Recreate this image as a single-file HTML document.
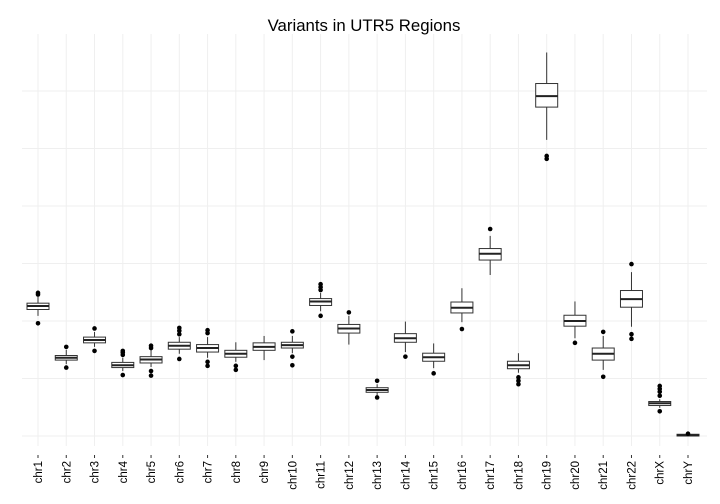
<!DOCTYPE html>
<html><head><meta charset="utf-8"><style>
html,body{margin:0;padding:0;background:#fff;}
svg{display:block;font-family:"Liberation Sans",sans-serif;}
</style></head><body>
<svg id="chart" width="720" height="504" viewBox="0 0 720 504">
<text x="364" y="31" text-anchor="middle" font-size="16.8" fill="#000">Variants in UTR5 Regions</text>
<g id="grid"></g>
<g id="boxes"></g>
<g id="xaxis"></g>
</svg>
<script>
const categories = ["chr1","chr2","chr3","chr4","chr5","chr6","chr7","chr8","chr9","chr10","chr11","chr12","chr13","chr14","chr15","chr16","chr17","chr18","chr19","chr20","chr21","chr22","chrX","chrY"];
const whiskerLow = [2.09,1.25,1.55,1.13,1.20,1.43,1.36,1.29,1.32,1.44,2.17,1.59,0.71,1.46,1.18,1.98,2.80,1.10,5.15,1.70,1.15,1.90,0.49,0.00];
const q1 =         [2.20,1.32,1.62,1.19,1.27,1.51,1.46,1.37,1.49,1.53,2.27,1.79,0.76,1.63,1.30,2.14,3.06,1.17,5.72,1.91,1.32,2.24,0.53,0.00];
const median =     [2.26,1.36,1.67,1.23,1.33,1.57,1.53,1.43,1.55,1.58,2.34,1.87,0.80,1.70,1.37,2.23,3.17,1.23,5.91,2.00,1.43,2.38,0.57,0.01];
const q3 =         [2.31,1.40,1.72,1.28,1.38,1.63,1.59,1.49,1.62,1.63,2.39,1.94,0.84,1.78,1.44,2.33,3.26,1.30,6.13,2.10,1.53,2.53,0.60,0.03];
const whiskerHigh =[2.42,1.50,1.81,1.36,1.50,1.72,1.72,1.63,1.74,1.74,2.49,2.09,0.90,1.99,1.61,2.57,3.48,1.44,6.67,2.34,1.74,2.85,0.64,0.03];
const outliers = [
 [2.49,2.46,1.96],[1.55,1.19],[1.87,1.48],[1.48,1.45,1.41,1.06],[1.57,1.53,1.13,1.05],
 [1.88,1.83,1.77,1.34],[1.84,1.79,1.29,1.22],[1.22,1.15],[],[1.82,1.38,1.23],
 [2.64,2.59,2.54,2.09],[2.15],[0.96,0.67],[1.38],[1.09],[1.86],[3.60],[1.02,0.96,0.90],
 [4.87,4.82],[1.62],[1.81,1.03],[2.99,1.77,1.69],[0.87,0.82,0.77,0.70,0.43],[0.04]
];
const yGridValues = [0,1,2,3,4,5,6];

const NS="http://www.w3.org/2000/svg";
const panel={left:22,right:707,top:34,bottom:446};
const x0=38, step=(688-38)/23;
function xScale(i){return x0+i*step;}
function yScale(v){return 436-v*57.5;}
function mk(tag,attrs,parent){const e=document.createElementNS(NS,tag);for(const k in attrs)e.setAttribute(k,attrs[k]);parent.appendChild(e);return e;}

const grid=document.getElementById('grid');
yGridValues.forEach(v=>{
  const l=mk('line',{x1:panel.left,x2:panel.right,y1:yScale(v),y2:yScale(v),stroke:'#efefef','stroke-width':1},grid);
  
  
});
categories.forEach((c,i)=>{
  const l=mk('line',{x1:xScale(i),x2:xScale(i),y1:panel.top,y2:panel.bottom,stroke:'#efefef','stroke-width':1},grid);
  
  
});

const boxes=document.getElementById('boxes');
const bw=22;
categories.forEach((c,i)=>{
  const g=mk('g',{},boxes);
  
  
  const x=xScale(i);
  mk('line',{x1:x,x2:x,y1:yScale(whiskerHigh[i]),y2:yScale(q3[i]),stroke:'#333','stroke-width':1},g);
  mk('line',{x1:x,x2:x,y1:yScale(q1[i]),y2:yScale(whiskerLow[i]),stroke:'#333','stroke-width':1},g);
  mk('rect',{x:x-bw/2,y:yScale(q3[i]),width:bw,height:Math.max(1,yScale(q1[i])-yScale(q3[i])),fill:'#fff',stroke:'#333','stroke-width':1},g);
  mk('line',{x1:x-bw/2,x2:x+bw/2,y1:yScale(median[i]),y2:yScale(median[i]),stroke:'#222','stroke-width':2},g);
  outliers[i].forEach(v=>{
    const p=mk('circle',{cx:x,cy:yScale(v),r:2.3,fill:'#000'},g);
    
    
  });
});

const xa=document.getElementById('xaxis');
categories.forEach((c,i)=>{
  const x=xScale(i);
  mk('line',{x1:x,x2:x,y1:455,y2:458,stroke:'#333','stroke-width':1},xa);
  const t=mk('text',{x:0,y:0,'font-size':11.5,fill:'#000','text-anchor':'end',transform:'translate('+(x+4)+',461) rotate(-90)'},xa);
  t.textContent=c;
  
  
});
</script>
</body></html>
